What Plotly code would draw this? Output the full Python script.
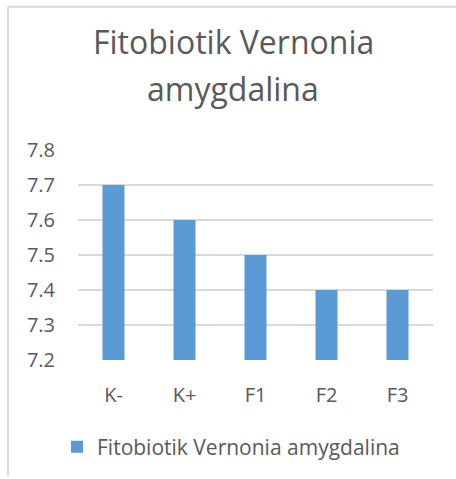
import plotly.graph_objects as go

categories = ["K-", "K+", "F1", "F2", "F3"]
values = [7.7, 7.6, 7.5, 7.4, 7.4]
series_name = "Fitobiotik Vernonia amygdalina"
title_lines = ["Fitobiotik Vernonia", "amygdalina"]
y_ticks = [7.2, 7.3, 7.4, 7.5, 7.6, 7.7, 7.8]

W, H = 456, 479
L, R, T, B = 78, 23, 150, 117
pw, ph = W - L - R, H - T - B

def px(x):
    return (x - L) / pw

def py(y):
    return (H - B - y) / ph

font = "Open Sans, Lato, sans-serif"
gray = "#595959"

fig = go.Figure()
fig.add_trace(go.Bar(
    x=categories, y=values, name=series_name,
    marker=dict(color="#5b9bd5", line=dict(width=0)),
    showlegend=True,
))

fig.update_layout(
    width=W, height=H,
    margin=dict(l=L, r=R, t=T, b=B),
    paper_bgcolor="white", plot_bgcolor="white",
    bargap=0.69,
    font=dict(family=font, color=gray, size=20),
    showlegend=True,
    legend=dict(orientation="h", x=px(57), xanchor="left", y=py(450), yanchor="middle",
                font=dict(size=21, color=gray), bgcolor="rgba(0,0,0,0)"),
    xaxis=dict(showgrid=False, showline=False, ticks="", tickfont=dict(size=20, color=gray),
               ticklabelstandoff=21),
    yaxis=dict(range=[7.2, 7.8], tickvals=y_ticks, ticktext=[f"{v:.1f}" for v in y_ticks],
               showgrid=True, gridcolor="#d9d9d9", gridwidth=1.5, zeroline=False,
               showline=False, ticks="", tickfont=dict(size=20, color=gray),
               ticklabelstandoff=22),
)

fig.add_annotation(text=title_lines[0], xref="paper", yref="paper", x=px(233), y=py(40),
                   xanchor="center", yanchor="middle", showarrow=False,
                   font=dict(size=32, color=gray, family=font))
fig.add_annotation(text=title_lines[1], xref="paper", yref="paper", x=px(233), y=py(88),
                   xanchor="center", yanchor="middle", showarrow=False,
                   font=dict(size=32, color=gray, family=font))

# chart border (left and top edges visible)
fig.add_shape(type="line", xref="paper", yref="paper", x0=px(8), x1=px(8), y0=py(5.5), y1=py(H),
              line=dict(color="#d9d9d9", width=2))
fig.add_shape(type="line", xref="paper", yref="paper", x0=px(8), x1=px(W), y0=py(5.5), y1=py(5.5),
              line=dict(color="#d9d9d9", width=2))

fig.write_html("out.html", config={"displayModeBar": False},
               post_script="document.body.style.margin='0';document.body.style.overflow='hidden';")
